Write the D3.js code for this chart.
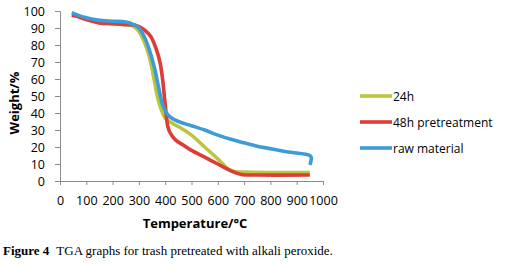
<!DOCTYPE html>
<html>
<head>
<meta charset="utf-8">
<script src="https://cdn.jsdelivr.net/npm/d3@7"></script>
<style>
  body { margin: 0; background: #fff; }
  svg text { fill: #000; }
</style>
</head>
<body>
<svg id="chart"></svg>
<script>
// data: [temperature °C, weight %]
const series = ["24h", "48h pretreatment", "raw material"];
const colors = ["#bcc63c", "#dd3d35", "#3d9bd7"];

const yellow24h = [[45,98],[60,97.5],[100,95],[150,93],[200,92.5],[250,92],[280,91],[300,88],[320,82],[340,73],[355,62],[370,50],[385,42],[400,37],[420,34.5],[450,32],[500,27],[550,20],[600,13],[640,7],[665,5.5],[700,5.2],[800,5],[950,5]];
const red48h = [[45,97.5],[60,97],[100,95],[150,93],[200,92.5],[250,92],[290,91.5],[320,89],[345,85],[365,78],[380,70],[390,60],[400,45],[410,32],[420,28],[440,24],[470,21],[500,18],[550,14],[600,10],[650,6],[690,3.8],[750,3.5],[950,3.5]];
const rawMaterial = [[45,99],[60,98],[100,96],[150,94.5],[200,94],[250,93.5],[280,92],[300,90],[320,85],[340,77],[360,66],[375,55],[390,45],[405,40],[420,37.5],[450,35],[500,32.5],[550,30],[600,27],[650,24.5],[700,22.5],[750,20.5],[800,19],[850,17.5],[900,16.5],[945,15.3],[955,14],[953,11],[950,9.5]];

const xTicks = [0,100,200,300,400,500,600,700,800,900,1000];
const yTicks = [0,10,20,30,40,50,60,70,80,90,100];

const width = 506;
const height = 266;
const plotLeft = 60, plotRight = 323, plotTop = 11, plotBottom = 181;

let svg = d3.select("#chart").attr("width", width).attr("height", height);

let xScale = d3.scaleLinear().domain([0, 1000]).range([plotLeft, plotRight]);
let yScale = d3.scaleLinear().domain([0, 100]).range([plotBottom, plotTop]);

// axes
let xAxis = d3.axisBottom(xScale).tickValues(xTicks).tickFormat(d3.format("d")).tickSize(4).tickPadding(11);
let gx = svg.append("g").attr("transform", "translate(0," + plotBottom + ")").call(xAxis);
gx.select(".domain").attr("stroke", "#8a8a8a");
gx.selectAll(".tick line").attr("stroke", "#8a8a8a");
gx.selectAll("text").style("font-size", "12.5px").style("font-family", "Open Sans").attr("fill", "#000");

let yAxis = d3.axisLeft(yScale).tickValues(yTicks).tickSize(5).tickPadding(10);
let gy = svg.append("g").attr("transform", "translate(" + plotLeft + ",0)").call(yAxis);
gy.select(".domain").attr("stroke", "#8a8a8a");
gy.selectAll(".tick line").attr("stroke", "#8a8a8a");
gy.selectAll("text").style("font-size", "12.5px").style("font-family", "Open Sans").attr("fill", "#000");

// lines
let line = d3.line()
  .x(d => xScale(d[0]))
  .y(d => yScale(d[1]))
  .curve(d3.curveCatmullRom.alpha(0.5));

[yellow24h, red48h, rawMaterial].forEach((vals, i) => {
  svg.append("path")
    .datum(vals)
    .attr("d", line)
    .attr("fill", "none")
    .attr("stroke", colors[i])
    .attr("stroke-width", 3.6)
    .attr("stroke-linejoin", "round");
});

// legend
series.forEach((name, i) => {
  let y = 96 + i * 26;
  svg.append("line")
    .attr("x1", 360).attr("x2", 392)
    .attr("y1", y).attr("y2", y)
    .attr("stroke", colors[i]).attr("stroke-width", 3.6);
  svg.append("text")
    .attr("x", 393).attr("y", y + 4.5)
    .style("font-family", "Open Sans")
    .style("font-size", "12px")
    .text(name);
});

// axis titles
svg.append("text")
  .attr("transform", "translate(19,103) rotate(-90)")
  .attr("text-anchor", "middle")
  .style("font-family", "Open Sans")
  .style("font-size", "13px")
  .style("font-weight", "bold")
  .text("Weight/%");

svg.append("text")
  .attr("x", 195).attr("y", 228)
  .attr("text-anchor", "middle")
  .style("font-family", "Open Sans")
  .style("font-size", "13px")
  .style("font-weight", "bold")
  .text("Temperature/°C");

// caption
let cap = svg.append("text")
  .attr("x", 3).attr("y", 255)
  .style("font-family", "Liberation Serif")
  .style("font-size", "13px")
  .attr("fill", "#222");
cap.append("tspan").style("font-weight", "bold").text("Figure 4");
cap.append("tspan").attr("dx", 7).text("TGA graphs for trash pretreated with alkali peroxide.");
</script>
</body>
</html>
